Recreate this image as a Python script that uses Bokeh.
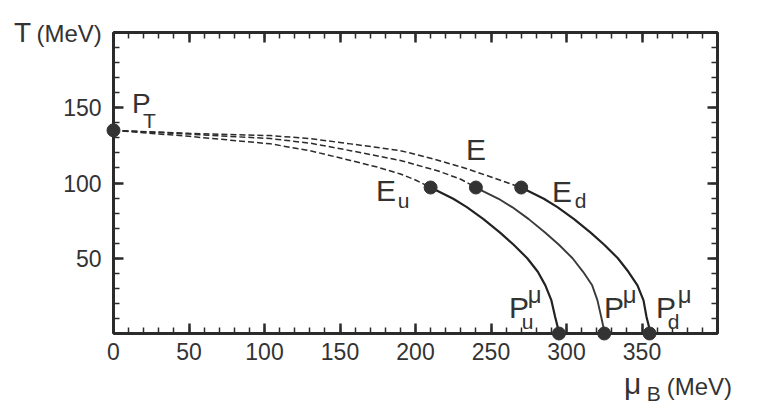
from bokeh.plotting import figure
from bokeh.models import Range1d, FixedTicker, LinearAxis
from bokeh.core.properties import value
from bokeh.embed import file_html
from bokeh.resources import INLINE

# ---- data ----
x_major = [0, 50, 100, 150, 200, 250, 300, 350, 400]
x_minor = list(range(0, 401, 10))
y_major = [0, 50, 100, 150, 200]
y_minor = list(range(0, 201, 10))

pt_mu = [0]
pt_T = [135]
E_mu = [210, 240, 270]
E_T = [97, 97, 97]
P_mu = [295, 325, 355]
P_T = [0, 0, 0]

dash_u_mu = [0, 50, 104, 130, 157, 175, 190, 200, 210]
dash_u_T = [135, 131, 126, 121.5, 115, 110.5, 106, 102, 97]
dash_m_mu = [0, 50, 104, 130, 157, 190, 215, 230, 240]
dash_m_T = [135, 132.5, 129.5, 126.5, 121.5, 115, 108, 102.5, 97]
dash_d_mu = [0, 50, 104, 130, 157, 190, 210, 234, 250, 270]
dash_d_T = [135, 133, 131.5, 129.5, 126, 121.5, 116.5, 109.5, 104, 97]

sol_u_mu = [210, 214, 225, 234, 245, 256, 265, 274, 281, 286, 290, 292.5, 294, 295]
sol_u_T = [97, 95, 89.5, 84, 76, 67, 59, 50, 41, 32, 22, 11, 5, 0]
sol_m_mu = [240, 244, 255, 264, 275, 286, 295, 304, 311, 317, 320.5, 323, 324.3, 325]
sol_m_T = [97, 95, 89.5, 84, 76, 67, 59, 50, 41, 32, 22, 11, 5, 0]
sol_d_mu = [270, 274, 285, 294, 305, 316, 325, 334, 341, 347, 351, 353, 354.5, 355]
sol_d_T = [97, 95, 89.5, 84, 76, 67, 59, 50, 41, 32, 22, 11, 5, 0]

INK = "#2b2b2b"
TXT = "#333333"
FONT = "Liberation Sans"

p = figure(width=748, height=408, x_range=Range1d(0, 400), y_range=Range1d(0, 200),
           output_backend="svg", toolbar_location=None,
           min_border_left=113, min_border_right=31, min_border_top=32, min_border_bottom=75)
p.grid.visible = False
p.outline_line_color = INK
p.outline_line_width = 2
p.background_fill_color = "white"
p.border_fill_color = "white"


def style_axis(ax, show_labels, standoff=10):
    ax.axis_line_color = INK
    ax.axis_line_width = 3
    ax.major_tick_line_color = INK
    ax.major_tick_line_width = 2.5
    ax.minor_tick_line_color = INK
    ax.minor_tick_line_width = 1.5
    ax.major_tick_in = 10
    ax.major_tick_out = 0
    ax.minor_tick_in = 6
    ax.minor_tick_out = 0
    if show_labels:
        ax.major_label_text_font = FONT
        ax.major_label_text_font_size = "23px"
        ax.major_label_text_color = TXT
        ax.major_label_standoff = standoff
    else:
        ax.major_label_text_color = None
        ax.major_label_text_alpha = 0
        ax.major_label_text_font_size = "1px"
        ax.major_label_standoff = 0


xa = p.xaxis[0]
xa.ticker = FixedTicker(ticks=x_major, minor_ticks=x_minor)
xa.major_label_overrides = {400: ""}
style_axis(xa, True, 9)
ya = p.yaxis[0]
ya.ticker = FixedTicker(ticks=y_major, minor_ticks=y_minor)
ya.major_label_overrides = {0: "", 200: ""}
style_axis(ya, True, 12)

top = LinearAxis(ticker=FixedTicker(ticks=x_major, minor_ticks=x_minor))
style_axis(top, False)
p.add_layout(top, "above")
right = LinearAxis(ticker=FixedTicker(ticks=y_major, minor_ticks=y_minor))
style_axis(right, False)
p.add_layout(right, "right")

# dashed crossover lines
for mu, T in [(dash_u_mu, dash_u_T), (dash_m_mu, dash_m_T), (dash_d_mu, dash_d_T)]:
    p.line(mu, T, line_color=INK, line_width=1.5, line_dash="6 3")

# first-order lines
p.line(sol_u_mu, sol_u_T, line_color="#222222", line_width=2.2)
p.line(sol_m_mu, sol_m_T, line_color="#3a3a3a", line_width=1.9)
p.line(sol_d_mu, sol_d_T, line_color="#222222", line_width=2.2)

# points
for mu, T in [(pt_mu, pt_T), (E_mu, E_T), (P_mu, P_T)]:
    p.scatter(mu, T, size=13, fill_color="#333333", line_color="#333333", level="overlay")


def lab(x, y, t, size):
    p.text(x=[x], y=[y], text=[t], text_font=value(FONT), text_font_size=value(f"{size}px"),
           text_color=TXT, text_baseline=value("middle"), text_align=value("left"),
           level="overlay")


# point labels
lab(12.2, 152.7, "P", 28)
lab(19.5, 141.7, "T", 21)
lab(233.4, 122.5, "E", 30)
lab(173.8, 95.3, "E", 30)
lab(188.2, 88.5, "u", 21)
lab(290.4, 94.1, "E", 30)
lab(305.5, 88.5, "d", 21)
lab(261.9, 17.5, "P", 30)
lab(274.3, 26.1, "μ", 24)
lab(270.4, 8.1, "u", 21)
lab(324.8, 17.5, "P", 30)
lab(337.2, 26.1, "μ", 24)
lab(359.3, 17.5, "P", 30)
lab(373.7, 26.1, "μ", 24)
lab(367.0, 8.1, "d", 21)

# axis titles
lab(-65.9, 199.9, "T", 28)
lab(-51.0, 199.5, "(MeV)", 24)
lab(338.0, -33.0, "μ", 30)
lab(353.1, -39.7, "B", 21)
lab(366.4, -35.0, "(MeV)", 24)

open("out.html", "w").write(file_html(p, INLINE))
